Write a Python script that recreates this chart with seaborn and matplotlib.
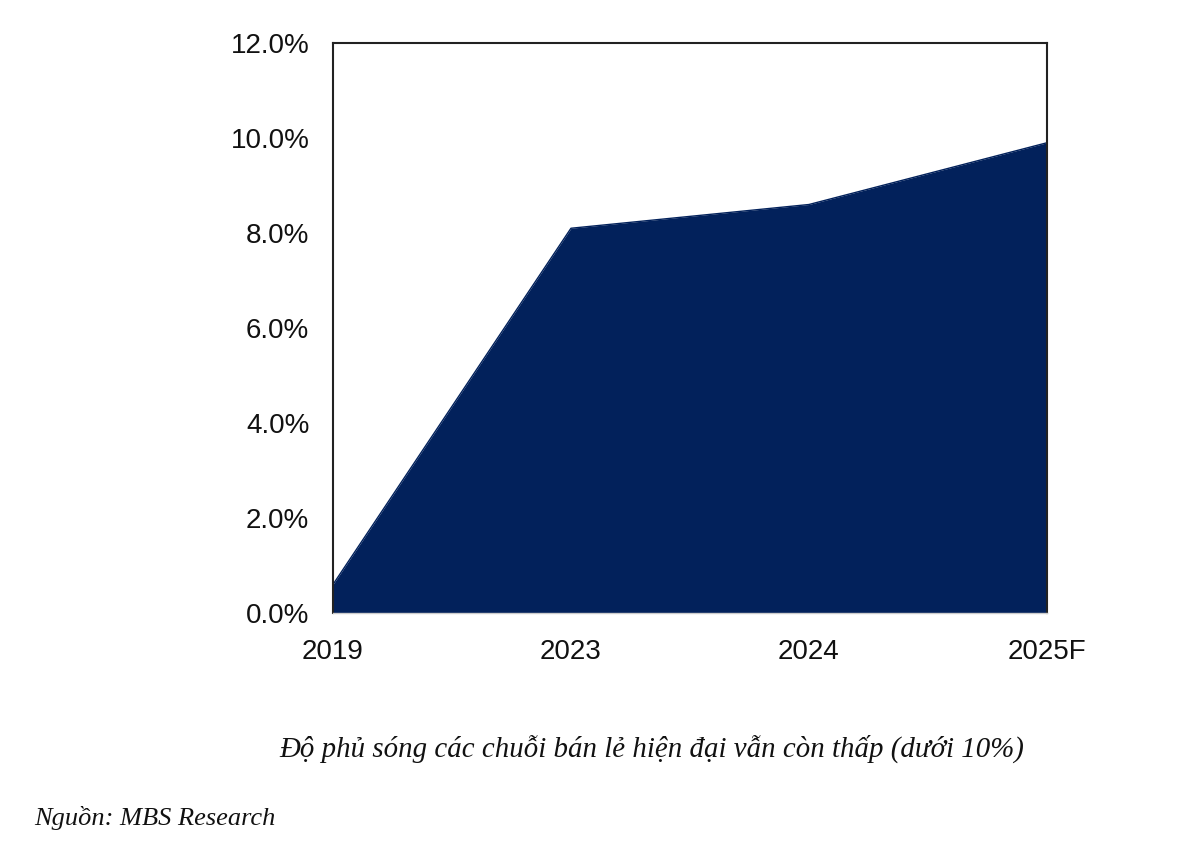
import matplotlib
matplotlib.use("Agg")
import matplotlib.pyplot as plt
import seaborn as sns
import pandas as pd
from matplotlib.ticker import FuncFormatter

# Data
years = ["2019", "2023", "2024", "2025F"]
coverage = [0.6, 8.1, 8.6, 9.9]  # % of retail coverage by modern chains

df = pd.DataFrame({"pos": range(len(years)), "coverage": coverage})

sns.set_theme(style="white")
plt.rcParams["font.family"] = ["Liberation Sans", "DejaVu Sans"]

fig = plt.figure(figsize=(11.96, 8.48), dpi=100)
ax = fig.add_axes([0.2784, 0.2771, 0.5970, 0.6722])

navy = "#02215B"
sns.lineplot(data=df, x="pos", y="coverage", ax=ax, color=navy, linewidth=1)
ax.fill_between(df["pos"], df["coverage"], 0, color=navy, linewidth=0)

ax.set_xlim(0, len(years) - 1)
ax.set_ylim(0, 12)
ax.set_yticks([0, 2, 4, 6, 8, 10, 12])
ax.yaxis.set_major_formatter(FuncFormatter(lambda v, p: f"{v:.1f}%"))
ax.set_xticks(range(len(years)))
ax.set_xticklabels(years)
ax.set_xlabel("")
ax.set_ylabel("")

ax.tick_params(axis="y", labelsize=20, length=0, pad=17, colors="#111111")
ax.tick_params(axis="x", labelsize=20, length=6, width=1, direction="out",
               pad=13, colors="#cccccc", labelcolor="#111111")

for side in ["top", "left", "right"]:
    ax.spines[side].set_color("#222222")
    ax.spines[side].set_linewidth(1.5)
ax.spines["bottom"].set_color("#cccccc")
ax.spines["bottom"].set_linewidth(1)

fig.text(0.545, 0.117, "Độ phủ sóng các chuỗi bán lẻ hiện đại vẫn còn thấp (dưới 10%)",
         ha="center", va="center", fontsize=20.8, style="italic",
         family=["Liberation Serif", "DejaVu Serif"], color="#111111")
fig.text(0.029, 0.035, "Nguồn: MBS Research", ha="left", va="center",
         fontsize=19, style="italic",
         family=["Liberation Serif", "DejaVu Serif"], color="#111111")

fig.savefig("out.png", dpi=100)
